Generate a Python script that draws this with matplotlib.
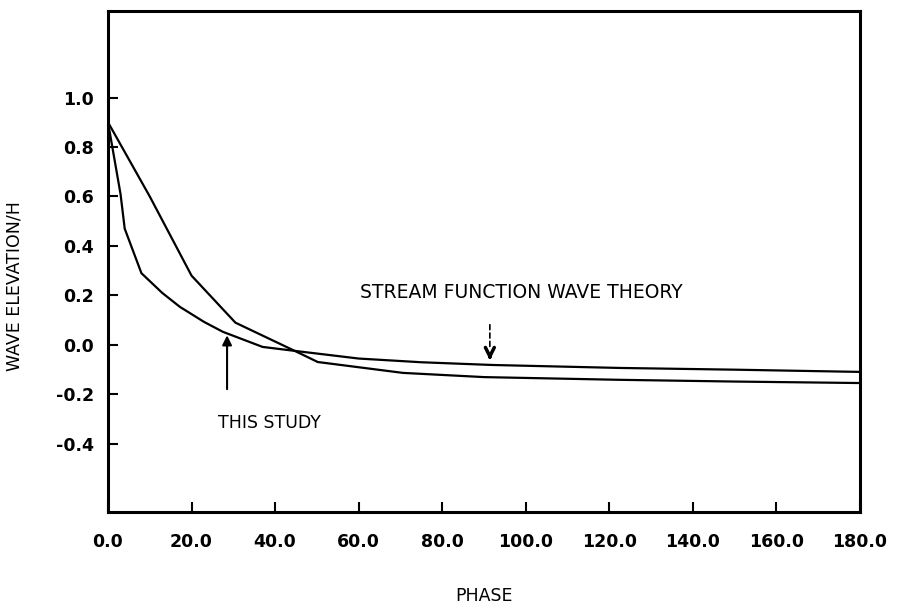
import numpy as np
import matplotlib
matplotlib.use('Agg')
import matplotlib.pyplot as plt

# phase (deg) vs wave elevation / H
phase_study = [0, 3, 4, 8, 13, 17.2, 23, 27.5, 37, 44.7, 60, 75, 92, 122.5, 150, 180]
elev_study = [0.9, 0.61, 0.47, 0.29, 0.21, 0.154, 0.093, 0.053, -0.008, -0.024,
              -0.055, -0.07, -0.081, -0.093, -0.1, -0.109]

phase_stream = [0, 10, 20, 30.5, 44.7, 50.2, 70.6, 90, 122.5, 150, 180]
elev_stream = [0.9, 0.6, 0.28, 0.09, -0.024, -0.069, -0.113, -0.13, -0.141, -0.148, -0.154]

xticks = [0, 20, 40, 60, 80, 100, 120, 140, 160, 180]
xlabels = ['0.0', '20.0', '40.0', '60.0', '80.0', '100.0', '120.0', '140.0', '160.0', '180.0']
yticks = [1.0, 0.8, 0.6, 0.4, 0.2, 0.0, -0.2, -0.4]
ylabels = ['1.0', '0.8', '0.6', '0.4', '0.2', '0.0', '-0.2', '-0.4']

plt.rcParams['font.family'] = ['DejaVu Sans']

fig = plt.figure(figsize=(9.03, 6.08), dpi=100)
ax = fig.add_axes([0.1196, 0.158, 0.8328, 0.824])

ax.plot(phase_study, elev_study, color='black', lw=1.6)
ax.plot(phase_stream, elev_stream, color='black', lw=1.6)

ax.set_xlim(0, 180)
ax.set_ylim(-0.675, 1.35)

ax.set_xticks(xticks)
ax.set_xticklabels(xlabels)
ax.set_yticks(yticks)
ax.set_yticklabels(ylabels)
ax.tick_params(axis='both', direction='in', length=7, width=1.5, labelsize=12.5)
ax.tick_params(axis='x', pad=15)
ax.tick_params(axis='y', pad=10)
ax.tick_params(top=False, right=False)
for lab in ax.get_xticklabels() + ax.get_yticklabels():
    lab.set_fontweight('bold')

for s in ax.spines.values():
    s.set_linewidth(2.2)

ax.set_xlabel('PHASE', fontsize=12.5, labelpad=26)
ax.set_ylabel('WAVE ELEVATION/H', fontsize=12.5)
ax.yaxis.set_label_coords(-0.113, 0.45)

# labels and arrows
ax.text(60.3, 0.21, 'STREAM FUNCTION WAVE THEORY', fontsize=13.5, va='center', ha='left')
ax.annotate('', xy=(91.4, -0.02), xytext=(91.4, 0.093),
            arrowprops=dict(arrowstyle='-', lw=1.2, ls=(0, (3, 2)), color='black'))
ax.annotate('', xy=(91.4, -0.073), xytext=(91.4, -0.03),
            arrowprops=dict(arrowstyle='->', lw=2.5, color='black', mutation_scale=16))

ax.text(26.3, -0.315, 'THIS STUDY', fontsize=12.5, va='center', ha='left')
ax.annotate('', xy=(28.5, 0.05), xytext=(28.5, -0.19),
            arrowprops=dict(arrowstyle='-|>', lw=1.5, color='black', mutation_scale=14))

fig.savefig('out.png', dpi=100)
